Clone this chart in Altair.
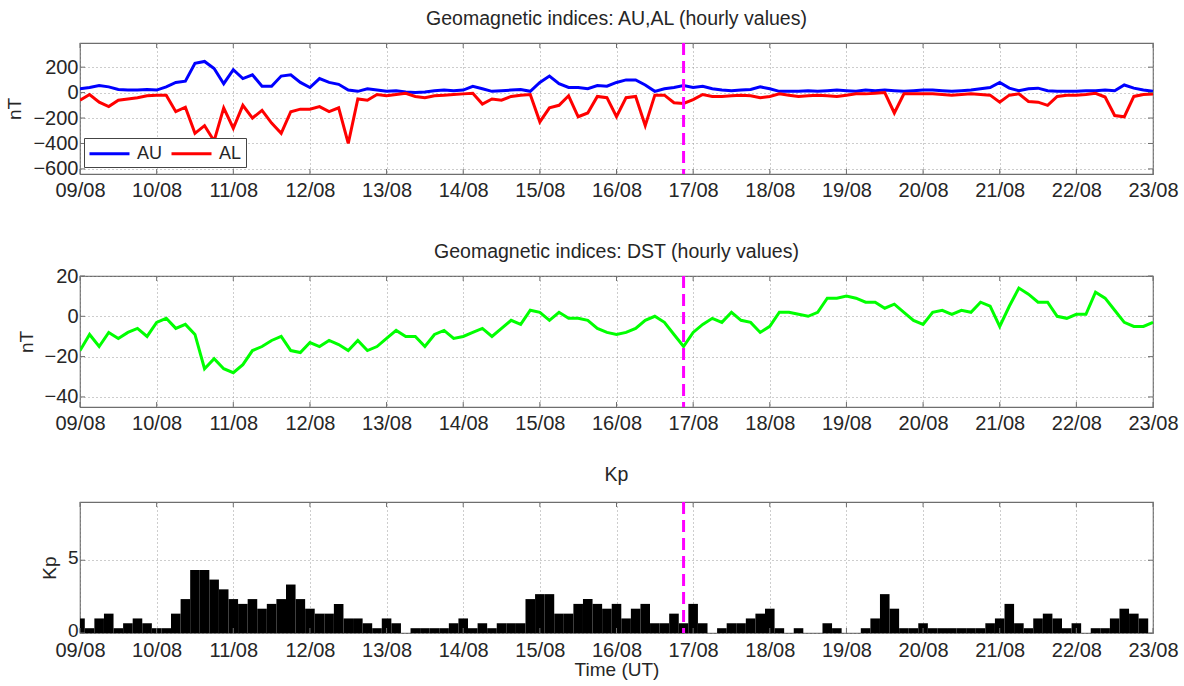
import json

import altair as alt
import pandas as pd

# Day tick labels along the time axis (00 UT of each day)
DAY_LABELS = ["09/08", "10/08", "11/08", "12/08", "13/08", "14/08", "15/08", "16/08",
              "17/08", "18/08", "19/08", "20/08", "21/08", "22/08", "23/08"]

STEP_H = 3  # spacing of the series samples, hours

# AU index (nT), 3-hourly from 09/08 00 UT
AU = [30, 40, 55, 45, 25, 20, 20, 25, 20, 45, 80, 90, 230, 245, 190, 70,
      180, 110, 140, 50, 50, 130, 140, 80, 40, 110, 80, 65, 20, 10, 30, 20,
      10, 15, 5, 0, 5, 15, 20, 15, 20, 50, 30, 10, 15, 20, 25, 10,
      80, 130, 70, 40, 40, 30, 55, 50, 80, 100, 100, 60, 10, 30, 40, 55,
      40, 50, 30, 20, 15, 20, 25, 45, 30, 10, 10, 10, 15, 10, 15, 20,
      15, 10, 20, 15, 20, 15, 10, 15, 20, 20, 15, 10, 15, 20, 30, 40,
      80, 35, 15, 30, 35, 15, 10, 10, 10, 15, 15, 20, 15, 60, 35, 20, 10]

# AL index (nT)
AL = [-60, -15, -75, -110, -60, -50, -40, -25, -20, -20, -150, -115, -320, -260, -380, -120,
      -280, -100, -200, -140, -240, -320, -150, -130, -130, -110, -150, -120, -400, -50, -60, -15,
      -25, -15, -5, -30, -40, -25, -20, -15, -10, -5, -90, -50, -60, -30, -20, -15,
      -230, -120, -100, -25, -190, -160, -30, -40, -190, -40, -30, -260, -20, -20, -80, -85,
      -55, -15, -30, -30, -25, -20, -25, -40, -30, -10, -20, -30, -25, -20, -25, -30,
      -20, -10, -10, -5, 0, -160, -10, -10, -10, -10, -15, -20, -15, -10, -15, -20,
      -75, -20, -10, -70, -75, -100, -30, -20, -20, -15, -5, -35, -180, -190, -30, -15, -10]

# Dst index (nT)
DST = [-17, -9, -15, -8, -11, -8, -6, -10, -3, -1, -6, -4, -9, -26, -21, -26,
       -28, -24, -17, -15, -12, -10, -17, -18, -13, -15, -12, -14, -17, -12, -17, -15,
       -11, -7, -10, -10, -15, -9, -7, -11, -10, -8, -6, -10, -6, -2, -4, 3,
       2, -2, 2, -1, -1, -2, -6, -8, -9, -8, -6, -2, 0, -3, -9, -15,
       -8, -4, -1, -3, 2, -2, -3, -8, -5, 2, 2, 1, 0, 2, 9, 9,
       10, 9, 7, 7, 4, 6, 2, -2, -4, 2, 3, 1, 3, 2, 7, 5,
       -5, 5, 14, 11, 7, 7, 0, -1, 1, 1, 12, 9, 3, -3, -5, -5, -3]

# Kp index, one value per 3-hour interval centred on 00, 03, 06 ... UT
KP = [1.0, 0.33, 1.0, 1.33, 0.33, 0.67, 1.0, 0.67, 0.33, 0.33, 1.33, 2.33, 4.33, 4.33, 3.67, 3.0,
      2.33, 2.0, 2.33, 1.67, 2.0, 2.33, 3.33, 2.33, 1.67, 1.33, 1.33, 2.0, 1.0, 1.0, 0.67, 0.33,
      1.0, 0.67, 0.0, 0.33, 0.33, 0.33, 0.33, 0.67, 1.0, 0.33, 0.67, 0.33, 0.67, 0.67, 0.67, 2.33,
      2.67, 2.67, 1.33, 1.33, 2.0, 2.33, 2.0, 1.67, 2.0, 1.0, 1.67, 2.0, 0.67, 0.67, 1.33, 0.67,
      2.0, 0.67, 0.0, 0.33, 0.67, 0.67, 1.0, 1.33, 1.67, 0.33, 0.0, 0.33, 0.0, 0.0, 0.67, 0.33,
      0.0, 0.0, 0.33, 1.0, 2.67, 1.67, 0.33, 0.33, 0.67, 0.33, 0.33, 0.33, 0.33, 0.33, 0.33, 0.67,
      1.0, 2.0, 0.67, 0.33, 1.0, 1.33, 1.0, 0.33, 0.67, 0.0, 0.33, 0.33, 1.0, 1.67, 1.33, 1.0]

EVENT_HOUR = 189  # 16/08 21 UT, marked by the dashed line

# y-axis tick values of the three panels
AUAL_TICKS = [-600, -400, -200, 0, 200]
DST_TICKS = [-40, -20, 0, 20]
KP_TICKS = [0, 5]

FONT = "Liberation Sans"
TEXT = "#262626"
FRAME = "#6e6e6e"
W, H = 1073, 131
TICK_LEN = 5
TOTAL_H = 24 * (len(DAY_LABELS) - 1)
DAY_TICKS = [24 * i for i in range(len(DAY_LABELS))]

hours = [i * STEP_H for i in range(len(AU))]
auel = pd.DataFrame({
    "hour": hours * 2,
    "value": AU + AL,
    "series": ["AU"] * len(AU) + ["AL"] * len(AL),
})
dst = pd.DataFrame({"hour": hours, "value": DST})
kp = pd.DataFrame({
    "start": [i * STEP_H - STEP_H / 2 for i in range(len(KP))],
    "end": [i * STEP_H + STEP_H / 2 for i in range(len(KP))],
    "kp": KP,
})
event = pd.DataFrame({"hour": [EVENT_HOUR]})

x_scale = alt.Scale(domain=[0, TOTAL_H], nice=False, zero=False)
label_expr = f"{json.dumps(DAY_LABELS)}[round(datum.value / 24)]"


def x_axis(title=None, label_padding=6):
    kw = dict(values=DAY_TICKS, labelExpr=label_expr,
              labelFlush=False, labelPadding=label_padding)
    if title:
        return alt.Axis(title=title, titlePadding=0, **kw)
    return alt.Axis(title=None, **kw)


def panel_title(text, offset):
    return alt.TitleParams(text, fontSize=19.5, fontWeight="normal", font=FONT,
                           color=TEXT, offset=offset)


def panel_layers(main, y_ticks, y_scale, x_ax, y_ax):
    """Main marks plus inner frame ticks and the dashed event line.

    Every layer carries the same axis definitions so the merged axes stay intact.
    """
    xt = pd.DataFrame({"hour": DAY_TICKS})
    yt = pd.DataFrame({"value": y_ticks})
    style = dict(color=FRAME, strokeWidth=1)
    xenc = alt.X("hour:Q", scale=x_scale, axis=x_ax)
    yenc = alt.Y("value:Q", scale=y_scale, axis=y_ax)
    bottom = alt.Chart(xt).mark_rule(**style).encode(
        x=xenc, y=alt.value(H - TICK_LEN), y2=alt.value(H))
    top_ = alt.Chart(xt).mark_rule(**style).encode(
        x=xenc, y=alt.value(0), y2=alt.value(TICK_LEN))
    left = alt.Chart(yt).mark_rule(**style).encode(
        y=yenc, x=alt.value(0), x2=alt.value(TICK_LEN))
    right = alt.Chart(yt).mark_rule(**style).encode(
        y=yenc, x=alt.value(W - TICK_LEN), x2=alt.value(W))
    rule = alt.Chart(event).mark_rule(
        color="#ff00ff", strokeWidth=3, strokeDash=[12, 6]).encode(x=xenc)
    return alt.layer(main, bottom, top_, left, right, rule)


# AU / AL panel; legend keys are long horizontal strokes
auel_scale = alt.Scale(domain=[-640, 390], nice=False, zero=False)
auel_x = x_axis()
auel_y = alt.Axis(values=AUAL_TICKS, title="nT")
au_al_lines = alt.Chart(auel).mark_line(strokeWidth=3, clip=True).encode(
    x=alt.X("hour:Q", scale=x_scale, axis=auel_x),
    y=alt.Y("value:Q", scale=auel_scale, axis=auel_y),
    color=alt.Color("series:N",
                    scale=alt.Scale(domain=["AU", "AL"], range=["#0000ff", "#ff0000"]),
                    legend=alt.Legend(title=None, orient="none", legendX=4, legendY=95,
                                      direction="horizontal", symbolType="M-2,0H2",
                                      symbolStrokeWidth=3, symbolSize=400,
                                      symbolOffset=10, labelOffset=16,
                                      labelFontSize=18, labelFont=FONT, labelColor=TEXT,
                                      strokeColor="#444", fillColor="white",
                                      padding=4, columnPadding=2)),
    detail="series:N",
)
top = panel_layers(au_al_lines, AUAL_TICKS, auel_scale, auel_x, auel_y).properties(
    width=W, height=H, title=panel_title("Geomagnetic indices: AU,AL (hourly values)", 12))

# Dst panel
dst_scale = alt.Scale(domain=[-45, 20], nice=False, zero=False)
dst_x = x_axis()
dst_y = alt.Axis(values=DST_TICKS, title="nT")
dst_line = alt.Chart(dst).mark_line(strokeWidth=3, color="#00ff00", clip=True).encode(
    x=alt.X("hour:Q", scale=x_scale, axis=dst_x),
    y=alt.Y("value:Q", scale=dst_scale, axis=dst_y),
)
mid = panel_layers(dst_line, DST_TICKS, dst_scale, dst_x, dst_y).properties(
    width=W, height=H, title=panel_title("Geomagnetic indices: DST (hourly values)", 4))

# Kp panel
kp_scale = alt.Scale(domain=[0, 9], nice=False, zero=False)
kp_x = x_axis("Time (UT)", label_padding=7)
kp_y = alt.Axis(values=KP_TICKS, title="Kp", labelFontSize=19, labelOffset=-3)
kp_bars = alt.Chart(kp).mark_rect(color="black", clip=True).encode(
    x=alt.X("start:Q", scale=x_scale, axis=kp_x),
    x2="end:Q",
    y=alt.Y("kp:Q", scale=kp_scale, axis=kp_y),
    y2=alt.datum(0),
)
bot = panel_layers(kp_bars, KP_TICKS, kp_scale, kp_x, kp_y).properties(
    width=W, height=H, title=panel_title("Kp", 15))

chart = alt.vconcat(
    alt.vconcat(top, mid, spacing=39), bot, spacing=30
).properties(
    padding={"left": 5, "top": 8, "right": 2, "bottom": 2},
    background="white",
).configure_view(
    stroke=FRAME, strokeWidth=1.2,
).configure_axis(
    labelFont=FONT, labelFontSize=20, labelColor=TEXT,
    titleFont=FONT, titleFontSize=19, titleFontWeight="normal", titleColor=TEXT,
    titlePadding=8, domain=False, ticks=False,
    grid=True, gridColor="#9a9a9a", gridDash=[1, 3], gridWidth=1,
)

chart.save("out.html", embed_options={"renderer": "svg", "actions": False})
